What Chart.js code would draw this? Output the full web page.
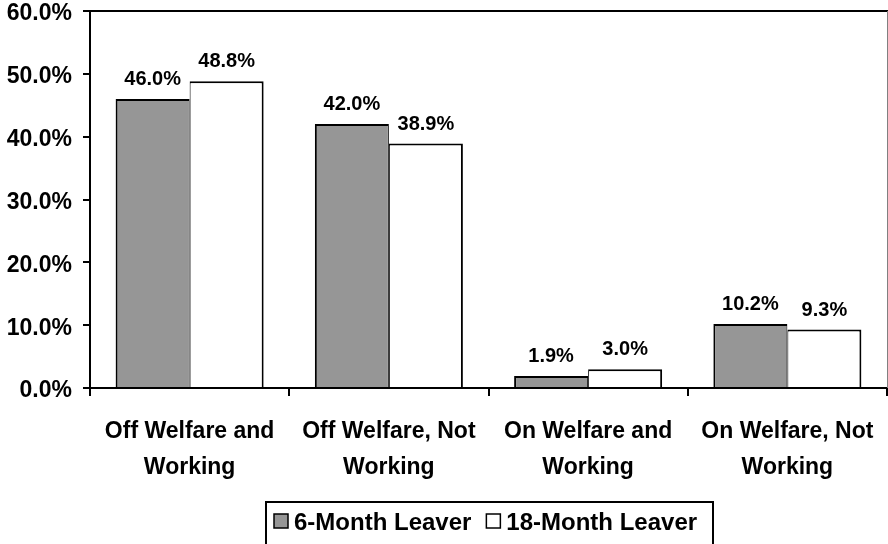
<!DOCTYPE html>
<html>
<head>
<meta charset="utf-8">
<script src="https://cdn.jsdelivr.net/npm/chart.js@4"></script>
<style>
  html, body { margin: 0; padding: 0; background: #ffffff; }
  #wrap { width: 888px; height: 544px; position: relative; }
</style>
</head>
<body>
<div id="wrap"><canvas id="chart"></canvas></div>
<script>
// categories and series (percent of leavers)
const categories = [
    ["Off Welfare and", "Working"],
    ["Off Welfare, Not", "Working"],
    ["On Welfare and", "Working"],
    ["On Welfare, Not", "Working"]
];
const sixMonthLeaver = [46.0, 42.0, 1.9, 10.2];
const eighteenMonthLeaver = [48.8, 38.9, 3.0, 9.3];
const seriesNames = ["6-Month Leaver", "18-Month Leaver"];
const seriesColors = ["#969696", "#ffffff"];

const FONT = "'Liberation Sans', Arial, sans-serif";

const fmt = (v) => Number(v).toFixed(1) + "%";

// value labels above each bar
const barLabels = {
    id: "barLabels",
    afterDatasetsDraw(chart) {
        const ctx = chart.ctx;
        ctx.save();
        ctx.font = "bold 20px " + FONT;
        ctx.fillStyle = "#000000";
        ctx.textAlign = "center";
        ctx.textBaseline = "alphabetic";
        chart.data.datasets.forEach((ds, i) => {
            chart.getDatasetMeta(i).data.forEach((bar, j) => {
                ctx.fillText(fmt(ds.data[j]), bar.x, bar.y - 14);
            });
        });
        ctx.restore();
    }
};

// top / right frame of the plot area and the boxed legend underneath
const frameAndLegend = {
    id: "frameAndLegend",
    afterDraw(chart) {
        const ctx = chart.ctx;
        const area = chart.chartArea;
        ctx.save();

        ctx.strokeStyle = "#000000";
        ctx.lineWidth = 2;
        ctx.beginPath();
        ctx.moveTo(area.left - 1, area.top);
        ctx.lineTo(chart.width, area.top);
        ctx.stroke();

        ctx.strokeStyle = "#808080";
        ctx.lineWidth = 1;
        ctx.beginPath();
        ctx.moveTo(area.right + 0.5, area.top);
        ctx.lineTo(area.right + 0.5, area.bottom);
        ctx.stroke();

        // legend
        const boxLeft = 266, boxTop = 502, boxRight = 713;
        ctx.strokeStyle = "#000000";
        ctx.lineWidth = 2;
        ctx.strokeRect(boxLeft, boxTop, boxRight - boxLeft, 60);

        ctx.font = "bold 24px " + FONT;
        ctx.textBaseline = "alphabetic";
        ctx.textAlign = "left";
        let x = boxLeft + 8;
        const baseline = 530;
        chart.data.datasets.forEach((ds) => {
            ctx.fillStyle = ds.backgroundColor;
            ctx.fillRect(x, 514, 14, 14);
            ctx.strokeStyle = "#000000";
            ctx.lineWidth = 1.5;
            ctx.strokeRect(x, 514, 14, 14);
            x += 20;
            ctx.fillStyle = "#000000";
            ctx.fillText(ds.label, x, baseline);
            x += ctx.measureText(ds.label).width + 15;
        });

        ctx.restore();
    }
};

new Chart(document.getElementById("chart").getContext("2d"), {
    type: "bar",
    data: {
        labels: categories,
        datasets: [
            {
                label: seriesNames[0],
                data: sixMonthLeaver,
                backgroundColor: seriesColors[0],
                borderColor: "#000000",
                borderWidth: { top: 2, left: 2, right: 1, bottom: 0 },
                borderSkipped: false
            },
            {
                label: seriesNames[1],
                data: eighteenMonthLeaver,
                backgroundColor: seriesColors[1],
                borderColor: "#000000",
                borderWidth: { top: 2, left: 1, right: 2, bottom: 0 },
                borderSkipped: false
            }
        ]
    },
    options: {
        animation: false,
        responsive: true,
        maintainAspectRatio: false,
        categoryPercentage: 0.743,
        barPercentage: 1.0,
        layout: {
            padding: { top: 11, right: 1, left: 0, bottom: 0 }
        },
        plugins: {
            legend: { display: false },
            tooltip: { enabled: false }
        },
        scales: {
            x: {
                afterFit: (scale) => {
                    scale.height = 156;
                    scale.paddingLeft = 0;
                    scale.paddingRight = 0;
                },
                grid: {
                    offset: true,
                    drawOnChartArea: false,
                    drawTicks: true,
                    tickLength: 8,
                    color: "#000000",
                    lineWidth: 2
                },
                border: { display: true, color: "#000000", width: 2 },
                ticks: {
                    color: "#000000",
                    padding: 18,
                    maxRotation: 0,
                    autoSkip: false,
                    font: { family: FONT, size: 23, weight: "bold", lineHeight: 1.55 }
                }
            },
            y: {
                min: 0,
                max: 60,
                afterFit: (scale) => {
                    scale.width = 90;
                    // keep the top tick label from pushing the plot down
                    scale.paddingTop = 0;
                    scale.paddingBottom = 0;
                },
                grid: {
                    drawOnChartArea: false,
                    drawTicks: true,
                    tickLength: 7,
                    color: "#000000",
                    lineWidth: 2
                },
                border: { display: true, color: "#000000", width: 2 },
                ticks: {
                    stepSize: 10,
                    color: "#000000",
                    padding: 11,
                    // empty first line nudges each label a few px below its tick
                    callback: (v) => ["", fmt(v)],
                    font: { family: FONT, size: 23, weight: "bold", lineHeight: "6px" }
                }
            }
        }
    },
    plugins: [barLabels, frameAndLegend]
});
</script>
</body>
</html>
